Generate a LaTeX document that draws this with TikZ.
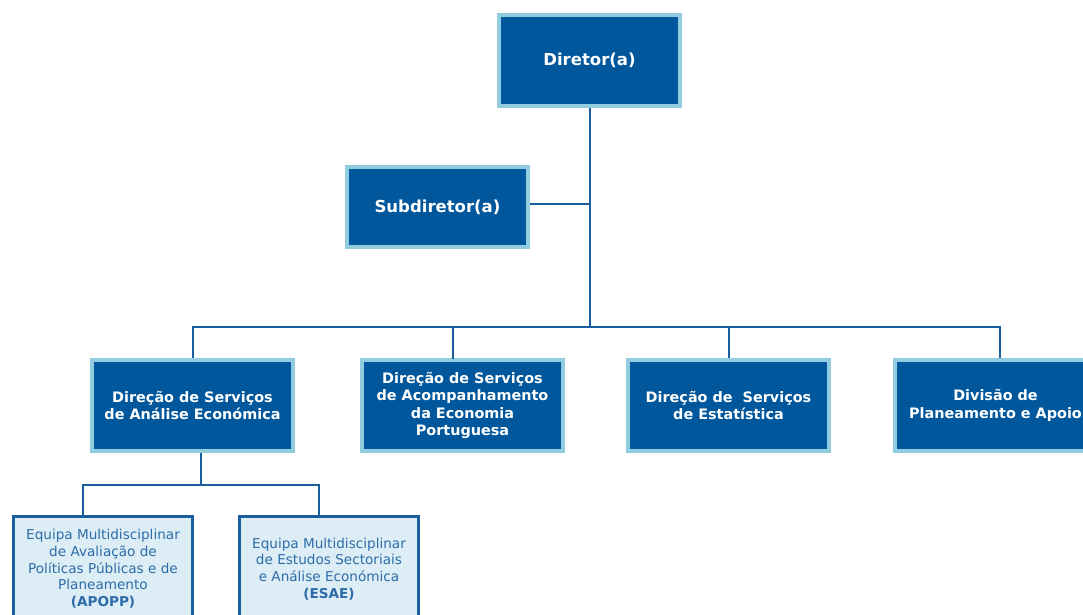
\documentclass[tikz,border=0pt]{standalone}
\usepackage{fontspec}
\setmainfont{DejaVu Sans}
\usetikzlibrary{positioning,calc}
\definecolor{boxblue}{HTML}{00579C}
\definecolor{rimblue}{HTML}{92CDDF}
\definecolor{lineblue}{HTML}{1B5E9E}
\definecolor{paleblue}{HTML}{DCEDF5}
\definecolor{teamtext}{HTML}{2D6CA8}
\tikzstyle{chief} = [
rectangle,
draw=rimblue,
line width=4pt,
fill=boxblue,
text=white,
font=\bfseries\fontsize{16.5}{19.5}\selectfont,
minimum width=181pt,
align=center
]
\tikzstyle{dept} = [
rectangle,
draw=rimblue,
line width=4pt,
fill=boxblue,
text=white,
font=\bfseries\fontsize{14.4}{17.5}\selectfont,
minimum width=201pt,
minimum height=91pt,
inner sep=2pt,
align=center
]
\tikzstyle{team} = [
rectangle,
draw=lineblue,
line width=3pt,
fill=paleblue,
text=teamtext,
font=\fontsize{13.6}{16.7}\selectfont,
minimum width=179pt,
minimum height=106pt,
inner sep=2pt,
anchor=north,
align=center
]
\tikzstyle{link} = [
draw=lineblue,
line width=2pt
]
\begin{document}
\begin{tikzpicture}[x=1pt,y=-1pt,node distance=62pt]
	\useasboundingbox (0,0) rectangle (1083,614);
	\clip (0,0) rectangle (1083,614);
	
	% top
	\node[chief,minimum height=91pt] (diretor) at (589.5,60.5) {Diretor(a)};
	\node[chief,minimum height=80pt] (subdir) at (437.5,207) {Subdiretor(a)};
	
	% direcoes
	\node[dept] (dsae) at (192.5,405.5) {Direção de Serviços\\de Análise Económica};
	\node[dept,right=65pt of dsae] (dsaep) {Direção de Serviços\\de Acompanhamento\\da Economia\\Portuguesa};
	\node[dept,right=61pt of dsaep] (dse) {Direção de\ \ Serviços\\de Estatística};
	\node[dept,right=62pt of dse] (dpa) {Divisão de\\Planeamento e Apoio};
	
	% equipas
	\node[team] (apopp) at (103,514.5) {Equipa Multidisciplinar\\de Avaliação de\\Políticas Públicas e de\\Planeamento\\\textbf{(APOPP)}};
	\node[team] (esae) at (329,514.5) {Equipa Multidisciplinar\\de Estudos Sectoriais\\e Análise Económica\\\textbf{(ESAE)}};
	
	\coordinate (bus) at (589.5,327);
	\coordinate (subbus) at (201,484.5);
	
	\draw[link] ($(subdir.east)+(0,-3)$) -- ($(subdir.east -| bus)+(0,-3)$);
	\draw[link] (diretor.south) -- (bus);
	\draw[link] (dsae.north) |- (bus) -| ($(dpa.north)+(4.5,0)$);
	\draw[link] (bus -| 453,0) -- (453,359);
	\draw[link] (bus -| dse) -- (dse.north);
	\draw[link] (201,453) -- (subbus);
	\draw[link] (apopp.north -| 83,0) |- (subbus) -| (esae.north -| 319,0);
\end{tikzpicture}
\end{document}
